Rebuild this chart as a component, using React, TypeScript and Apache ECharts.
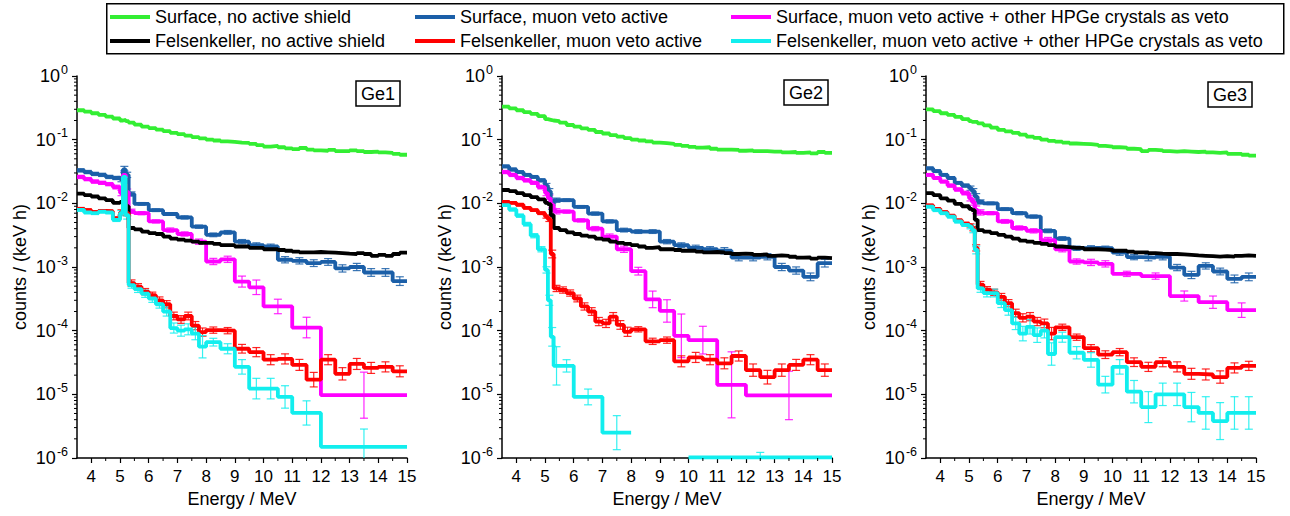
import React, { useEffect, useRef } from 'react';
import * as echarts from 'echarts';

const FONT = '"Liberation Sans", Arial, Helvetica, sans-serif';

// ---------- labels / categories ----------
const seriesNames = [
  'Surface, no active shield',
  'Surface, muon veto active',
  'Surface, muon veto active + other HPGe crystals as veto',
  'Felsenkeller, no active shield',
  'Felsenkeller, muon veto active',
  'Felsenkeller, muon veto active + other HPGe crystals as veto',
];
const seriesColors = ['#33ee33', '#1b5fa8', '#ff00ff', '#000000', '#ff0000', '#12eeee'];
const panelLabels = ['Ge1', 'Ge2', 'Ge3'];
const xTickValues = [4, 5, 6, 7, 8, 9, 10, 11, 12, 13, 14, 15];
const xMinorValues = [4.5, 5.5, 6.5, 7.5, 8.5, 9.5, 10.5, 11.5, 12.5, 13.5, 14.5];
const yDecades = [1e-6, 1e-5, 1e-4, 1e-3, 1e-2, 1e-1];
const yMinorFactors = [2, 3, 4, 5, 6, 7, 8, 9];

// ---------- bin edges (MeV) ----------
const fineEdges = [3.5, 3.75, 4, 4.25, 4.5, 4.75, 5, 5.1, 5.2, 5.3, 5.5, 5.75, 6, 6.25, 6.5, 6.75, 7, 7.25, 7.5, 7.75, 8, 8.25, 8.5, 8.75, 9, 9.25, 9.5, 9.75, 10, 10.25, 10.5, 10.75, 11, 11.25, 11.5, 11.75, 12, 12.25, 12.5, 12.75, 13, 13.25, 13.5, 13.75, 14, 14.25, 14.5, 14.75, 15];
const blueEdges = [3.5, 3.75, 4, 4.25, 4.5, 4.75, 5, 5.1, 5.2, 5.3, 5.5, 6, 6.5, 7, 7.5, 8, 8.5, 9, 9.5, 10, 10.5, 11, 11.5, 12, 12.5, 13, 13.5, 14, 14.5, 15];
const magEdgesA = [3.5, 3.75, 4, 4.25, 4.5, 4.75, 5, 5.1, 5.2, 5.3, 5.5, 6, 6.5, 7, 7.5, 8, 8.5, 9, 9.5, 10, 11, 12, 15];
const magEdgesB = [3.5, 3.75, 4, 4.25, 4.5, 4.75, 5, 5.1, 5.2, 5.3, 5.5, 6, 6.5, 7, 7.5, 8, 8.5, 9, 9.5, 10, 11, 12, 13, 14, 15];
const redEdges = [3.5, 3.75, 4, 4.25, 4.5, 4.75, 5, 5.1, 5.2, 5.3, 5.5, 5.75, 6, 6.25, 6.5, 6.75, 7, 7.25, 7.5, 7.75, 8, 8.5, 9, 9.5, 10, 10.5, 11, 11.5, 12, 12.5, 13, 13.5, 14, 14.5, 15];
const cyanEdgesGe1 = [3.5, 3.75, 4, 4.25, 4.5, 4.75, 5, 5.1, 5.2, 5.3, 5.5, 5.75, 6, 6.25, 6.5, 6.75, 7, 7.25, 7.5, 7.75, 8, 8.5, 9, 9.5, 10, 10.5, 11, 12, 15];
const cyanEdgesGe2 = [3.5, 3.75, 4, 4.25, 4.5, 4.75, 5, 5.1, 5.2, 5.3, 5.5, 6, 7, 8, 10, 15];

// ---------- Ge1 (counts / (keV h)) ----------
const ge1Green = [0.29, 0.275, 0.26, 0.245, 0.23, 0.215, 0.2, 0.205, 0.195, 0.185, 0.172, 0.16, 0.152, 0.144, 0.136, 0.128, 0.122, 0.116, 0.11, 0.105, 0.1, 0.097, 0.094, 0.092, 0.09, 0.089, 0.086, 0.082, 0.078, 0.08, 0.076, 0.073, 0.071, 0.074, 0.07, 0.068, 0.067, 0.069, 0.066, 0.066, 0.068, 0.066, 0.064, 0.065, 0.063, 0.062, 0.06, 0.058];
const ge1Black = [0.0142, 0.0135, 0.0128, 0.012, 0.0112, 0.0102, 0.0105, 0.025, 0.009, 0.0041, 0.0039, 0.0036, 0.0034, 0.0033, 0.003, 0.0028, 0.0027, 0.0026, 0.0025, 0.0024, 0.0024, 0.0023, 0.0022, 0.0022, 0.0021, 0.0021, 0.002, 0.002, 0.0019, 0.0019, 0.00185, 0.0018, 0.00175, 0.0017, 0.0017, 0.00172, 0.0017, 0.00168, 0.00165, 0.00162, 0.0016, 0.00165, 0.0016, 0.0015, 0.00155, 0.0015, 0.0016, 0.00168];
const ge1Blue = [0.033, 0.031, 0.029, 0.028, 0.026, 0.025, 0.024, 0.034, 0.028, 0.014, 0.0098, 0.0078, 0.0068, 0.006, 0.0043, 0.0032, 0.0035, 0.0025, 0.0022, 0.0021, 0.0013, 0.00125, 0.00115, 0.0012, 0.00095, 0.001, 0.00082, 0.00082, 0.0006];
const ge1BlueErr = [0.06, 0.06, 0.06, 0.06, 0.06, 0.06, 0.1, 0.12, 0.1, 0.08, 0.05, 0.05, 0.05, 0.06, 0.06, 0.07, 0.07, 0.08, 0.09, 0.09, 0.12, 0.12, 0.13, 0.13, 0.14, 0.14, 0.15, 0.15, 0.17];
const ge1Mag = [0.026, 0.024, 0.022, 0.021, 0.02, 0.018, 0.0145, 0.028, 0.015, 0.0075, 0.007, 0.0052, 0.0038, 0.0033, 0.0025, 0.00122, 0.00132, 0.00059, 0.00048, 0.00024, 0.000112, 9.7e-6];
const ge1MagErr = [0.06, 0.06, 0.06, 0.06, 0.06, 0.07, 0.1, 0.15, 0.12, 0.08, 0.06, 0.06, 0.08, 0.08, 0.1, 0.12, 0.12, 0.22, 0.3, 0.3, 0.45, 1.3];
const ge1Red = [0.0082, 0.0078, 0.0073, 0.0076, 0.0075, 0.0058, 0.0072, 0.02, 0.007, 0.00056, 0.00049, 0.00041, 0.00036, 0.0003, 0.00026, 0.00017, 0.00015, 0.00017, 0.00012, 9.5e-5, 0.000102, 0.0001, 5.2e-5, 4.6e-5, 3.5e-5, 3.6e-5, 2.9e-5, 1.7e-5, 3.5e-5, 2.1e-5, 3.0e-5, 2.6e-5, 2.7e-5, 2.3e-5];
const ge1RedErr = [0.05, 0.05, 0.05, 0.05, 0.05, 0.06, 0.1, 0.15, 0.1, 0.12, 0.12, 0.12, 0.12, 0.13, 0.14, 0.15, 0.15, 0.15, 0.16, 0.16, 0.12, 0.12, 0.17, 0.18, 0.2, 0.2, 0.22, 0.3, 0.2, 0.25, 0.22, 0.22, 0.2, 0.22];
const ge1Cyan = [0.0079, 0.0072, 0.007, 0.0074, 0.0072, 0.0055, 0.007, 0.026, 0.0065, 0.00052, 0.00045, 0.00038, 0.00032, 0.00026, 0.0002, 0.00011, 0.0001, 0.000105, 9e-5, 5.6e-5, 6.6e-5, 5.2e-5, 2.7e-5, 1.23e-5, 1.23e-5, 9.1e-6, 5.1e-6, 1.5e-6];
const ge1CyanErr = [0.05, 0.05, 0.05, 0.05, 0.05, 0.06, 0.1, 0.25, 0.15, 0.12, 0.13, 0.14, 0.15, 0.15, 0.18, 0.2, 0.22, 0.22, 0.25, 0.5, 0.15, 0.2, 0.3, 0.45, 0.45, 0.5, 0.55, 0.9];

// ---------- Ge2 ----------
const ge2Green = [0.33, 0.31, 0.29, 0.27, 0.255, 0.235, 0.21, 0.205, 0.2, 0.195, 0.185, 0.17, 0.16, 0.15, 0.142, 0.132, 0.125, 0.118, 0.112, 0.106, 0.1, 0.097, 0.094, 0.09, 0.088, 0.086, 0.083, 0.08, 0.077, 0.075, 0.076, 0.072, 0.07, 0.07, 0.069, 0.067, 0.068, 0.066, 0.066, 0.065, 0.065, 0.063, 0.064, 0.062, 0.063, 0.061, 0.064, 0.062];
const ge2Black = [0.0162, 0.0155, 0.0145, 0.0135, 0.0125, 0.0115, 0.0102, 0.0097, 0.0065, 0.0041, 0.0038, 0.0035, 0.0033, 0.0031, 0.003, 0.0028, 0.0027, 0.0025, 0.0024, 0.0023, 0.0022, 0.0021, 0.002, 0.00205, 0.0019, 0.0019, 0.00185, 0.0018, 0.0018, 0.00175, 0.0017, 0.00172, 0.0017, 0.00165, 0.0016, 0.00162, 0.0016, 0.00155, 0.00158, 0.0015, 0.00152, 0.0015, 0.00145, 0.0014, 0.00142, 0.00135, 0.0014, 0.00138];
const ge2Blue = [0.038, 0.034, 0.031, 0.028, 0.026, 0.023, 0.019, 0.0155, 0.009, 0.0112, 0.0112, 0.0088, 0.0069, 0.0052, 0.0038, 0.0036, 0.0036, 0.0025, 0.0022, 0.002, 0.0019, 0.0018, 0.0014, 0.0014, 0.00145, 0.001, 0.00088, 0.0007, 0.00115];
const ge2BlueErr = [0.05, 0.05, 0.05, 0.05, 0.05, 0.06, 0.08, 0.1, 0.12, 0.08, 0.05, 0.05, 0.06, 0.06, 0.07, 0.07, 0.07, 0.08, 0.09, 0.1, 0.1, 0.12, 0.12, 0.12, 0.12, 0.14, 0.14, 0.15, 0.15];
const ge2Mag = [0.031, 0.028, 0.025, 0.023, 0.021, 0.018, 0.0145, 0.012, 0.0095, 0.0075, 0.0074, 0.0054, 0.004, 0.003, 0.0019, 0.00086, 0.00031, 0.000204, 8.3e-5, 7.1e-5, 1.41e-5, 9.6e-6];
const ge2MagErr = [0.06, 0.06, 0.06, 0.06, 0.06, 0.07, 0.1, 0.12, 0.12, 0.1, 0.06, 0.06, 0.08, 0.1, 0.12, 0.15, 0.35, 0.5, 1.2, 0.65, 2.3, 1.4];
const ge2Red = [0.0105, 0.0102, 0.0095, 0.0085, 0.0078, 0.007, 0.0062, 0.0056, 0.0016, 0.00046, 0.000435, 0.00039, 0.00032, 0.00024, 0.0002, 0.000139, 0.00013, 0.000166, 0.000123, 9.6e-5, 0.000105, 6.8e-5, 7.1e-5, 3.3e-5, 3.8e-5, 3.5e-5, 3.07e-5, 4.0e-5, 2.4e-5, 1.86e-5, 2.4e-5, 2.9e-5, 3.5e-5, 2.4e-5];
const ge2RedErr = [0.04, 0.04, 0.04, 0.04, 0.04, 0.05, 0.06, 0.08, 0.15, 0.12, 0.12, 0.12, 0.13, 0.14, 0.15, 0.16, 0.16, 0.16, 0.17, 0.18, 0.1, 0.12, 0.12, 0.22, 0.2, 0.2, 0.22, 0.2, 0.25, 0.28, 0.25, 0.22, 0.2, 0.25];
const ge2Cyan = [0.0094, 0.008, 0.0064, 0.0047, 0.0031, 0.0019, 0.0009, 0.0003, 0.00008, 2.8e-5, 2.8e-5, 9.1e-6, 2.5e-6, null, 1.02e-6];
const ge2CyanErr = [0.05, 0.05, 0.06, 0.07, 0.08, 0.1, 0.12, 0.2, 0.4, 1.0, 0.25, 0.33, 0.85, 0, 0.2];

// ---------- Ge3 ----------
const ge3Green = [0.3, 0.28, 0.26, 0.245, 0.228, 0.21, 0.195, 0.19, 0.19, 0.18, 0.168, 0.155, 0.142, 0.135, 0.128, 0.12, 0.112, 0.107, 0.1, 0.096, 0.093, 0.09, 0.087, 0.086, 0.085, 0.083, 0.08, 0.078, 0.076, 0.075, 0.072, 0.071, 0.066, 0.069, 0.068, 0.066, 0.065, 0.066, 0.065, 0.064, 0.065, 0.063, 0.062, 0.063, 0.06, 0.06, 0.058, 0.056];
const ge3Black = [0.0145, 0.0135, 0.012, 0.011, 0.0098, 0.009, 0.0082, 0.0078, 0.0055, 0.0038, 0.0036, 0.0034, 0.0032, 0.003, 0.0028, 0.0026, 0.0025, 0.0024, 0.0023, 0.0022, 0.0021, 0.00205, 0.002, 0.002, 0.0019, 0.0019, 0.00188, 0.00185, 0.0018, 0.0018, 0.00175, 0.0017, 0.0017, 0.00165, 0.00162, 0.0016, 0.0016, 0.00158, 0.00155, 0.00152, 0.0015, 0.00148, 0.00145, 0.00148, 0.00146, 0.0015, 0.00152, 0.0015];
const ge3Blue = [0.0355, 0.032, 0.028, 0.025, 0.021, 0.019, 0.0173, 0.0155, 0.0127, 0.0105, 0.01, 0.0081, 0.007, 0.0062, 0.0037, 0.0028, 0.00197, 0.002, 0.00197, 0.00168, 0.00143, 0.0014, 0.00145, 0.00098, 0.00075, 0.00104, 0.00085, 0.00065, 0.0007];
const ge3BlueErr = [0.05, 0.05, 0.05, 0.05, 0.05, 0.06, 0.08, 0.1, 0.12, 0.08, 0.05, 0.05, 0.06, 0.06, 0.07, 0.07, 0.08, 0.08, 0.08, 0.1, 0.1, 0.12, 0.12, 0.12, 0.14, 0.12, 0.13, 0.15, 0.15];
const ge3Mag = [0.028, 0.025, 0.022, 0.019, 0.0165, 0.0145, 0.012, 0.0105, 0.0079, 0.0072, 0.007, 0.0052, 0.0041, 0.0037, 0.00265, 0.0019, 0.00122, 0.00118, 0.00112, 0.00078, 0.00072, 0.00035, 0.00028, 0.00021];
const ge3MagErr = [0.05, 0.05, 0.05, 0.06, 0.06, 0.07, 0.1, 0.12, 0.15, 0.1, 0.06, 0.07, 0.08, 0.08, 0.1, 0.1, 0.1, 0.12, 0.12, 0.1, 0.12, 0.2, 0.25, 0.3];
const ge3Red = [0.0093, 0.0082, 0.0073, 0.0064, 0.0054, 0.0048, 0.0045, 0.004, 0.002, 0.00053, 0.00044, 0.0004, 0.00034, 0.00027, 0.000189, 0.000159, 0.000166, 0.000139, 0.00013, 9e-5, 0.000113, 7.9e-5, 5.3e-5, 4.2e-5, 4.6e-5, 3.2e-5, 2.7e-5, 3.2e-5, 2.7e-5, 2.1e-5, 2.05e-5, 1.87e-5, 2.6e-5, 2.8e-5];
const ge3RedErr = [0.04, 0.04, 0.04, 0.04, 0.05, 0.05, 0.06, 0.08, 0.12, 0.12, 0.12, 0.12, 0.13, 0.14, 0.15, 0.16, 0.16, 0.16, 0.17, 0.25, 0.12, 0.12, 0.14, 0.15, 0.14, 0.17, 0.18, 0.18, 0.2, 0.22, 0.22, 0.25, 0.2, 0.18];
const ge3Cyan = [0.0089, 0.0078, 0.007, 0.0062, 0.0052, 0.0046, 0.0043, 0.0038, 0.00185, 0.00046, 0.00039, 0.00039, 0.00027, 0.00021, 0.00013, 9e-5, 0.000115, 8.5e-5, 0.0001, 4.3e-5, 7.9e-5, 4.5e-5, 3.47e-5, 1.42e-5, 2.7e-5, 1.1e-5, 6.3e-6, 1.0e-5, 1.0e-5, 6.3e-6, 5.1e-6, 3.8e-6, 5.1e-6, 5.1e-6];
const ge3CyanErr = [0.05, 0.05, 0.05, 0.05, 0.06, 0.06, 0.08, 0.1, 0.15, 0.15, 0.15, 0.15, 0.17, 0.2, 0.25, 0.3, 0.3, 0.3, 0.3, 0.5, 0.2, 0.25, 0.3, 0.35, 0.3, 0.5, 0.75, 0.5, 0.5, 0.7, 0.8, 0.95, 0.8, 0.8];

// ---------- layout ----------
const Y_MIN = 1e-6;
const Y_MAX = 1;
const X_MIN = 3.5;
const X_MAX = 15;
const gridLefts = [77, 502, 926];
const GRID_W = 330;
const GRID_TOP = 76;
const GRID_H = 382;
const labelBoxes = [
  { left: 356, top: 81 },
  { left: 784, top: 80 },
  { left: 1208, top: 82 },
];
const legendCols = [110, 415, 731];
const legendRows = [8, 32];
const TEXT_SIZE = 18;
const TICK_SIZE = 17;

type Entry = [number[], (number | null)[], number[] | null];

const panelTable: Entry[][] = [
  [
    [fineEdges, ge1Green, null],
    [blueEdges, ge1Blue, ge1BlueErr],
    [magEdgesA, ge1Mag, ge1MagErr],
    [fineEdges, ge1Black, null],
    [redEdges, ge1Red, ge1RedErr],
    [cyanEdgesGe1, ge1Cyan, ge1CyanErr],
  ],
  [
    [fineEdges, ge2Green, null],
    [blueEdges, ge2Blue, ge2BlueErr],
    [magEdgesA, ge2Mag, ge2MagErr],
    [fineEdges, ge2Black, null],
    [redEdges, ge2Red, ge2RedErr],
    [cyanEdgesGe2, ge2Cyan, ge2CyanErr],
  ],
  [
    [fineEdges, ge3Green, null],
    [blueEdges, ge3Blue, ge3BlueErr],
    [magEdgesB, ge3Mag, ge3MagErr],
    [fineEdges, ge3Black, null],
    [redEdges, ge3Red, ge3RedErr],
    [redEdges, ge3Cyan, ge3CyanErr],
  ],
];

function stepPoints(edges: number[], vals: (number | null)[]) {
  const pts: (number | null)[][] = [];
  for (let i = 0; i < vals.length; i++) {
    const v = vals[i];
    if (v == null) {
      pts.push([edges[i], null]);
      continue;
    }
    pts.push([edges[i], v], [edges[i + 1], v]);
  }
  return pts;
}

function errorData(edges: number[], vals: (number | null)[], errs: number[]) {
  const out: number[][] = [];
  for (let i = 0; i < vals.length; i++) {
    const v = vals[i];
    const e = errs[i];
    if (v == null || !e) continue;
    const c = (edges[i] + edges[i + 1]) / 2;
    const hi = v * (1 + e);
    const rawLo = v / (1 + e);
    const lo = Math.max(rawLo, Y_MIN);
    out.push([c, lo, hi, rawLo >= Y_MIN ? 1 : 0]);
  }
  return out;
}

function errRenderer(color: string) {
  return (_params: any, api: any) => {
    const x = api.value(0);
    const a = api.coord([x, api.value(2)]);
    const b = api.coord([x, api.value(1)]);
    const st = { stroke: color, lineWidth: 1.2, opacity: 0.85 };
    const cap = 4;
    const children: any[] = [
      { type: 'line', shape: { x1: a[0], y1: a[1], x2: b[0], y2: b[1] }, style: st },
      { type: 'line', shape: { x1: a[0] - cap, y1: a[1], x2: a[0] + cap, y2: a[1] }, style: st },
    ];
    if (api.value(3)) {
      children.push({ type: 'line', shape: { x1: b[0] - cap, y1: b[1], x2: b[0] + cap, y2: b[1] }, style: st });
    }
    return { type: 'group', children };
  };
}

function buildOption() {
  const grids: any[] = [];
  const xAxes: any[] = [];
  const yAxes: any[] = [];
  const series: any[] = [];
  const titles: any[] = [];

  const yMinorData: number[][] = [];
  yDecades.forEach((d) => yMinorFactors.forEach((m) => yMinorData.push([X_MIN, d * m])));
  const xMinorData = xMinorValues.map((v) => [v, Y_MIN]);

  for (let p = 0; p < 3; p++) {
    grids.push({ left: gridLefts[p], top: GRID_TOP, width: GRID_W, height: GRID_H, containLabel: false });
    xAxes.push({
      type: 'value',
      gridIndex: p,
      min: X_MIN,
      max: X_MAX,
      axisLine: { show: true, onZero: false, lineStyle: { color: '#000', width: 1.5 } },
      axisTick: { show: true, customValues: xTickValues, length: 5, lineStyle: { color: '#000', width: 1.2 } },
      axisLabel: { customValues: xTickValues, fontSize: TICK_SIZE, color: '#000', fontFamily: FONT, margin: 10 },
      splitLine: { show: false },
      name: 'Energy / MeV',
      nameLocation: 'middle',
      nameGap: 31,
      nameTextStyle: { fontSize: TEXT_SIZE, color: '#000', fontFamily: FONT },
    });
    yAxes.push({
      type: 'log',
      gridIndex: p,
      logBase: 10,
      min: Y_MIN,
      max: Y_MAX,
      interval: 1,
      axisLine: { show: true, onZero: false, lineStyle: { color: '#000', width: 1.5 } },
      axisTick: { show: true, length: 5, lineStyle: { color: '#000', width: 1.2 } },
      axisLabel: {
        margin: 9,
        color: '#000',
        fontFamily: FONT,
        formatter: (v: number) => `{b|10}{s|${Math.round(Math.log10(v))}}`,
        rich: {
          b: { fontSize: 18, lineHeight: 18, fontFamily: FONT, color: '#000', verticalAlign: 'bottom' },
          s: { fontSize: 12.5, lineHeight: 13, fontFamily: FONT, color: '#000', verticalAlign: 'bottom', padding: [0, 0, 9, 1] },
        },
      },
      splitLine: { show: false },
      name: 'counts / (keV h)',
      nameLocation: 'middle',
      nameGap: 48,
      nameTextStyle: { fontSize: TEXT_SIZE, color: '#000', fontFamily: FONT },
    });
    titles.push({
      text: panelLabels[p],
      left: labelBoxes[p].left,
      top: labelBoxes[p].top,
      borderColor: '#000',
      borderWidth: 1.5,
      padding: [4, 5, 3, 5],
      textStyle: { fontSize: 18, fontWeight: 'normal', color: '#000', fontFamily: FONT },
    });

    panelTable[p].forEach(([edges, vals, errs], k) => {
      const color = seriesColors[k];
      series.push({
        type: 'line',
        name: seriesNames[k],
        xAxisIndex: p,
        yAxisIndex: p,
        data: stepPoints(edges, vals),
        showSymbol: false,
        symbol: 'none',
        color,
        lineStyle: { width: 3.8, color },
        itemStyle: { color },
        silent: true,
        clip: true,
        z: 2,
      });
      if (errs) {
        series.push({
          type: 'custom',
          name: seriesNames[k] + ' error',
          xAxisIndex: p,
          yAxisIndex: p,
          data: errorData(edges, vals, errs),
          renderItem: errRenderer(color),
          silent: true,
          clip: true,
          z: 2,
        });
      }
    });

    series.push({
      type: 'custom',
      name: 'minor-x',
      xAxisIndex: p,
      yAxisIndex: p,
      data: xMinorData,
      silent: true,
      clip: false,
      renderItem: (_params: any, api: any) => {
        const pt = api.coord([api.value(0), api.value(1)]);
        return { type: 'line', shape: { x1: pt[0], y1: pt[1], x2: pt[0], y2: pt[1] + 3 }, style: { stroke: '#000', lineWidth: 1 } };
      },
      z: 3,
    });
    series.push({
      type: 'custom',
      name: 'minor-y',
      xAxisIndex: p,
      yAxisIndex: p,
      data: yMinorData,
      silent: true,
      clip: false,
      renderItem: (_params: any, api: any) => {
        const pt = api.coord([api.value(0), api.value(1)]);
        return { type: 'line', shape: { x1: pt[0] - 3, y1: pt[1], x2: pt[0], y2: pt[1] }, style: { stroke: '#000', lineWidth: 1 } };
      },
      z: 3,
    });
  }

  const legends = seriesNames.map((name, i) => ({
    data: [name],
    left: legendCols[i % 3],
    top: legendRows[Math.floor(i / 3)],
    orient: 'horizontal',
    icon: 'rect',
    itemWidth: 40,
    itemHeight: 4,
    itemGap: 0,
    padding: 0,
    selectedMode: false,
    textStyle: { fontSize: TEXT_SIZE, fontFamily: FONT, color: '#000' },
  }));

  return {
    animation: false,
    backgroundColor: '#ffffff',
    textStyle: { fontFamily: FONT },
    title: titles,
    legend: legends,
    grid: grids,
    xAxis: xAxes,
    yAxis: yAxes,
    series,
    graphic: [
      {
        type: 'rect',
        left: 106,
        top: 3,
        shape: { width: 1177, height: 50 },
        style: { fill: 'transparent', stroke: '#000', lineWidth: 1.5 },
        z: -1,
        silent: true,
      },
    ],
  };
}

export default function App() {
  const ref = useRef<HTMLDivElement>(null);
  useEffect(() => {
    if (!ref.current) return;
    const chart = echarts.init(ref.current, null, { renderer: 'svg' });
    chart.setOption(buildOption() as any);
    return () => chart.dispose();
  }, []);
  return (
    <div
      ref={ref}
      style={{ position: 'absolute', left: 0, top: 0, width: 1290, height: 516, background: '#fff' }}
    />
  );
}
